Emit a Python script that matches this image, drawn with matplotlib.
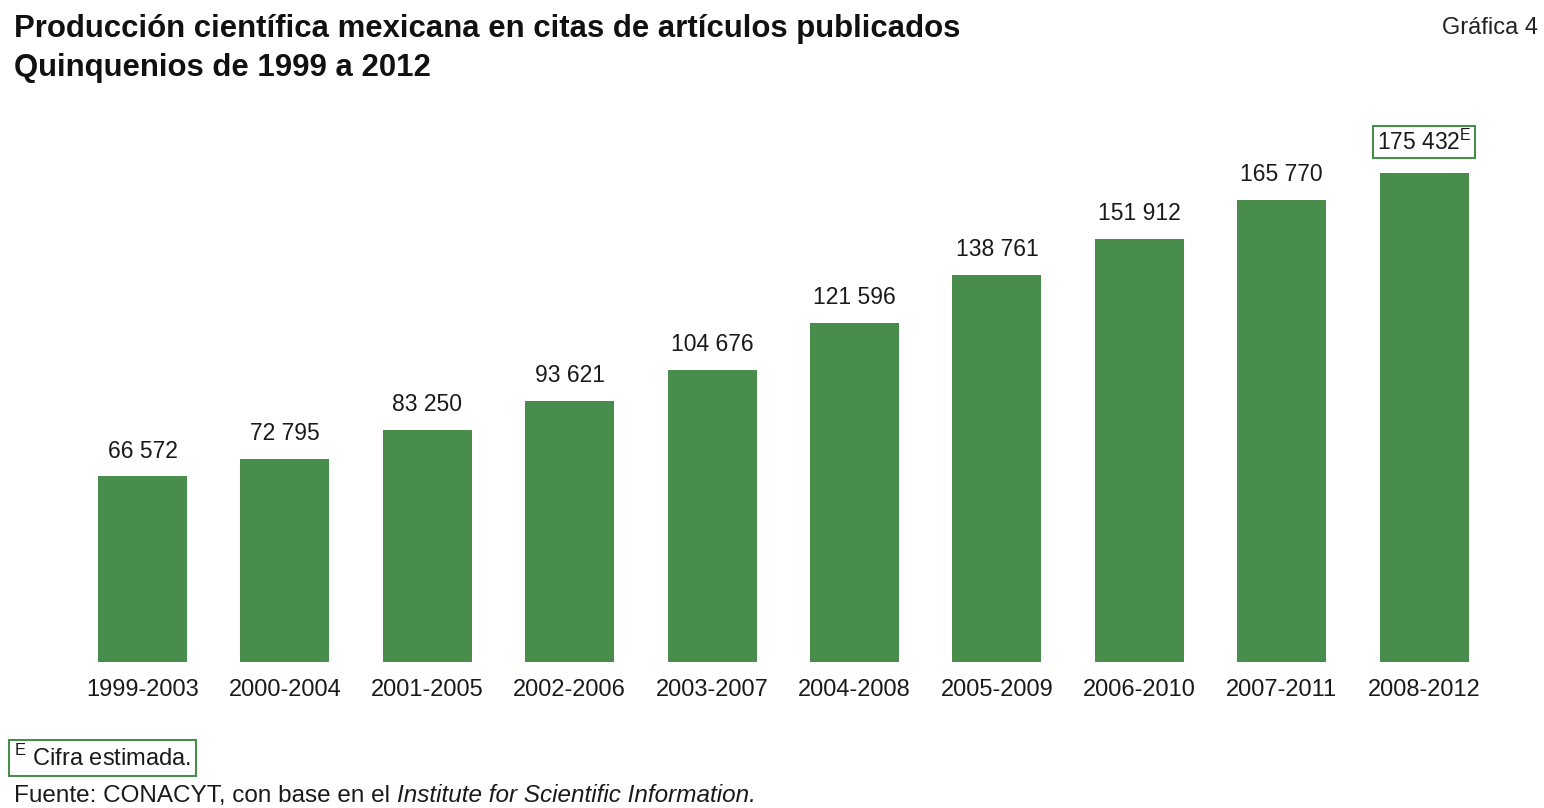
import matplotlib
matplotlib.use("Agg")
import matplotlib.pyplot as plt

categories = ["1999-2003", "2000-2004", "2001-2005", "2002-2006", "2003-2007",
              "2004-2008", "2005-2009", "2006-2010", "2007-2011", "2008-2012"]
values = [66572, 72795, 83250, 93621, 104676, 121596, 138761, 151912, 165770, 175432]
estimated = [False] * 9 + [True]

title_lines = ["Producción científica mexicana en citas de artículos publicados",
               "Quinquenios de 1999 a 2012"]
graph_no = "Gráfica 4"
note_text = "Cifra estimada."
source_plain = "Fuente: CONACYT, con base en el "
source_italic = "Institute for Scientific Information."

plt.rcParams["font.family"] = ["Liberation Sans", "DejaVu Sans"]
plt.rcParams["mathtext.fontset"] = "custom"
plt.rcParams["mathtext.rm"] = "Liberation Sans"

BAR = "#488d4b"
W, H = 1544, 808
fig = plt.figure(figsize=(W / 100, H / 100), dpi=100)
ax = fig.add_axes([71.3 / W, 146 / H, 1424 / W, 542 / H])

def fmt(v):
    return f"{v:,}".replace(",", " ")

x = list(range(len(categories)))
ax.bar(x, values, width=0.625, color=BAR)
ax.set_xlim(-0.5, len(categories) - 0.5)
ax.set_ylim(0, 194470)
for s in ax.spines.values():
    s.set_visible(False)
ax.set_yticks([])
ax.set_xticks(x)
ax.set_xticklabels(categories, fontsize=17, color="#1a1a1a")
ax.tick_params(axis="x", length=0, pad=12)

for xi, v, est in zip(x, values, estimated):
    if est:
        ax.annotate(fmt(v) + r"$^{\mathrm{E}}$", (xi, v), xytext=(0, 13),
                    textcoords="offset points", ha="center", va="bottom",
                    fontsize=16.5, color="#1a1a1a",
                    bbox=dict(boxstyle="square,pad=0.15", fc="white", ec=BAR, lw=1.5))
    else:
        ax.annotate(fmt(v), (xi, v), xytext=(0, 10),
                    textcoords="offset points", ha="center", va="bottom",
                    fontsize=16.5, color="#1a1a1a")

fig.text(14 / W, 1 - 37 / H, title_lines[0], fontsize=22.4, fontweight="bold",
         color="#111111", va="baseline", ha="left")
fig.text(14 / W, 1 - 76 / H, title_lines[1], fontsize=22.4, fontweight="bold",
         color="#111111", va="baseline", ha="left")
fig.text(1538 / W, 1 - 34 / H, graph_no, fontsize=17, color="#222222",
         va="baseline", ha="right")

fig.text(14 / W, 1 - 766 / H, r"$^{\mathrm{E}}$ " + note_text, fontsize=17,
         color="#1a1a1a", va="baseline", ha="left",
         bbox=dict(boxstyle="square,pad=0.2", fc="white", ec=BAR, lw=1.5))

t1 = fig.text(14 / W, 1 - 802 / H, source_plain, fontsize=17.5, color="#1a1a1a",
              va="baseline", ha="left")
fig.canvas.draw()
bb = t1.get_window_extent(renderer=fig.canvas.get_renderer())
fig.text(bb.x1 / W, 1 - 802 / H, source_italic, fontsize=17.5, color="#1a1a1a",
         va="baseline", ha="left", style="italic")

fig.savefig("out.png", dpi=100, facecolor="white")
